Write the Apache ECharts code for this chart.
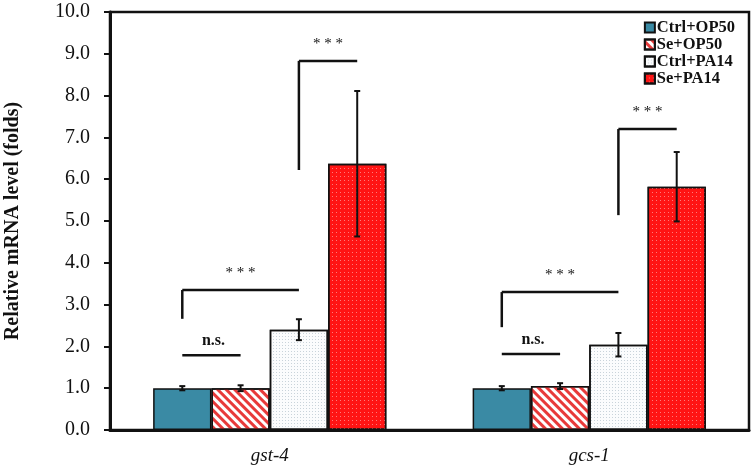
<!DOCTYPE html>
<html><head><meta charset="utf-8">
<script src="https://cdn.jsdelivr.net/npm/echarts@6/dist/echarts.min.js"></script>
<style>html,body{margin:0;padding:0;background:#fff}#c{width:754px;height:469px}</style>
</head><body><div id="c"></div>
<script>
const categories = ['gst-4', 'gcs-1'];
const seriesNames = ['Ctrl+OP50', 'Se+OP50', 'Ctrl+PA14', 'Se+PA14'];
const ctrlOP50 = [1.00, 1.00];
const seOP50 = [1.00, 1.05];
const ctrlPA14 = [2.40, 2.04];
const sePA14 = [6.37, 5.82];
const errCtrlOP50 = [0.05, 0.05];
const errSeOP50 = [0.07, 0.07];
const errCtrlPA14 = [0.25, 0.28];
const errSePA14 = [1.74, 0.83];
const yTicks = [0, 1, 2, 3, 4, 5, 6, 7, 8, 9, 10];
// significance brackets: category, bar from, bar to, line level, left leg end, label
const sigCat = [0, 0, 0, 1, 1, 1];
const sigFrom = [0, 0, 2, 0, 0, 2];
const sigTo = [1, 2, 3, 1, 2, 3];
const sigLevel = [1.79, 3.35, 8.83, 1.82, 3.30, 7.20];
const sigLeg = [null, 2.66, 6.22, null, 2.46, 5.14];
const sigLabel = ['n.s.', '***', '***', 'n.s.', '***', '***'];

const means = [ctrlOP50, seOP50, ctrlPA14, sePA14];
const errs = [errCtrlOP50, errSeOP50, errCtrlPA14, errSePA14];
const GAP = 0.27;
const FONT = 'Liberation Serif';

const chart = echarts.init(document.getElementById('c'));

const styles = [
  {color: '#3a8aa4', borderColor: '#111', borderWidth: 1.5},
  {color: '#ffffff', borderColor: '#111', borderWidth: 1.5,
   decal: {symbol: 'rect', symbolSize: 1, color: '#e83a3a', dashArrayX: [1, 0], dashArrayY: [2.5, 2.5], rotation: Math.PI / 4}},
  {color: '#fbfcfd', borderColor: '#111', borderWidth: 1.5,
   decal: {symbol: 'rect', symbolSize: 1, color: '#c9d3da', dashArrayX: [1, 2], dashArrayY: [1, 2], rotation: 0}},
  {color: '#ff1414', borderColor: '#111', borderWidth: 1.5,
   decal: {symbol: 'rect', symbolSize: 1, color: '#ff7a7a', dashArrayX: [1, 3], dashArrayY: [1, 3], rotation: 0}}
];

const barSeries = seriesNames.map((n, i) => ({
  name: n, type: 'bar', data: means[i],
  barGap: '0%', barCategoryGap: (GAP * 100) + '%',
  itemStyle: styles[i], z: 2
}));

function barOffset(api, idx) {
  const band = api.size([1, 0])[0];
  const w = band * (1 - GAP) / 4;
  return (idx - 1.5) * w;
}

const errData = [];
for (let s = 0; s < 4; s++) for (let c = 0; c < categories.length; c++) errData.push([c, means[s][c], errs[s][c], s]);

const errSeries = {
  type: 'custom', name: 'err', z: 5,
  data: errData,
  renderItem: function (params, api) {
    const c = api.value(0), m = api.value(1), e = api.value(2), s = api.value(3);
    const x = api.coord([c, m])[0] + barOffset(api, s);
    const yt = api.coord([c, m + e])[1];
    const yb = api.coord([c, m - e])[1];
    const cap = 3;
    const st = {stroke: '#111', lineWidth: 2};
    return {type: 'group', children: [
      {type: 'line', shape: {x1: x, y1: yt, x2: x, y2: yb}, style: st},
      {type: 'line', shape: {x1: x - cap, y1: yt, x2: x + cap, y2: yt}, style: st},
      {type: 'line', shape: {x1: x - cap, y1: yb, x2: x + cap, y2: yb}, style: st}
    ]};
  }
};

const sigSeries = {
  type: 'custom', name: 'sig', z: 6,
  data: sigCat.map((c, i) => [c, sigLevel[i]]),
  renderItem: function (params, api) {
    const i = params.dataIndex;
    const c = sigCat[i];
    const base = api.coord([c, sigLevel[i]]);
    const x1 = base[0] + barOffset(api, sigFrom[i]);
    const x2 = base[0] + barOffset(api, sigTo[i]);
    const y = base[1];
    const st = {stroke: '#111', lineWidth: 2.5};
    const ch = [{type: 'line', shape: {x1: x1, y1: y, x2: x2, y2: y}, style: st}];
    if (sigLeg[i] !== null) {
      const yl = api.coord([c, sigLeg[i]])[1];
      ch.push({type: 'line', shape: {x1: x1, y1: y, x2: x1, y2: yl}, style: st});
    }
    const isNS = sigLabel[i] === 'n.s.';
    ch.push({type: 'text', x: (x1 + x2) / 2 + (isNS ? 2 : 0), y: y - (isNS ? 6 : 9),
      style: {text: isNS ? sigLabel[i] : sigLabel[i].split('').join(' '), fill: '#111', align: 'center', verticalAlign: 'bottom',
        font: (isNS ? 'bold 16px ' : '15px ') + FONT}});
    return {type: 'group', children: ch};
  }
};

chart.setOption({
  animation: false,
  backgroundColor: '#fff',
  grid: {left: 110, right: 5, top: 12, bottom: 39, show: true, borderColor: '#111', borderWidth: 2.5, backgroundColor: 'transparent',
         containLabel: false, outerBoundsMode: 'none'},
  legend: {
    data: seriesNames, orient: 'vertical', right: 14, top: 14,
    itemWidth: 10, itemHeight: 10, itemGap: 0,
    icon: 'rect',
    textStyle: {fontFamily: FONT, fontWeight: 'bold', fontSize: 16.5, lineHeight: 15, color: '#111', padding: [0, 0, 0, -3]}
  },
  xAxis: {
    type: 'category', data: categories,
    axisLine: {lineStyle: {color: '#111', width: 3}},
    axisTick: {show: false},
    axisLabel: {fontFamily: FONT, fontStyle: 'italic', fontSize: 19, color: '#111', margin: 16}
  },
  yAxis: {
    type: 'value', min: yTicks[0], max: yTicks[yTicks.length - 1], interval: 1,
    name: 'Relative mRNA level (folds)', nameLocation: 'middle', nameGap: 87,
    nameTextStyle: {fontFamily: FONT, fontWeight: 'bold', fontSize: 20, color: '#111'},
    axisLine: {show: true, lineStyle: {color: '#111', width: 3}},
    axisTick: {show: true, length: 6, lineStyle: {color: '#111', width: 2}},
    splitLine: {show: false},
    axisLabel: {fontFamily: FONT, fontSize: 20, color: '#111', margin: 20, formatter: v => v.toFixed(1)}
  },
  series: barSeries.concat([errSeries, sigSeries])
});
</script></body></html>
